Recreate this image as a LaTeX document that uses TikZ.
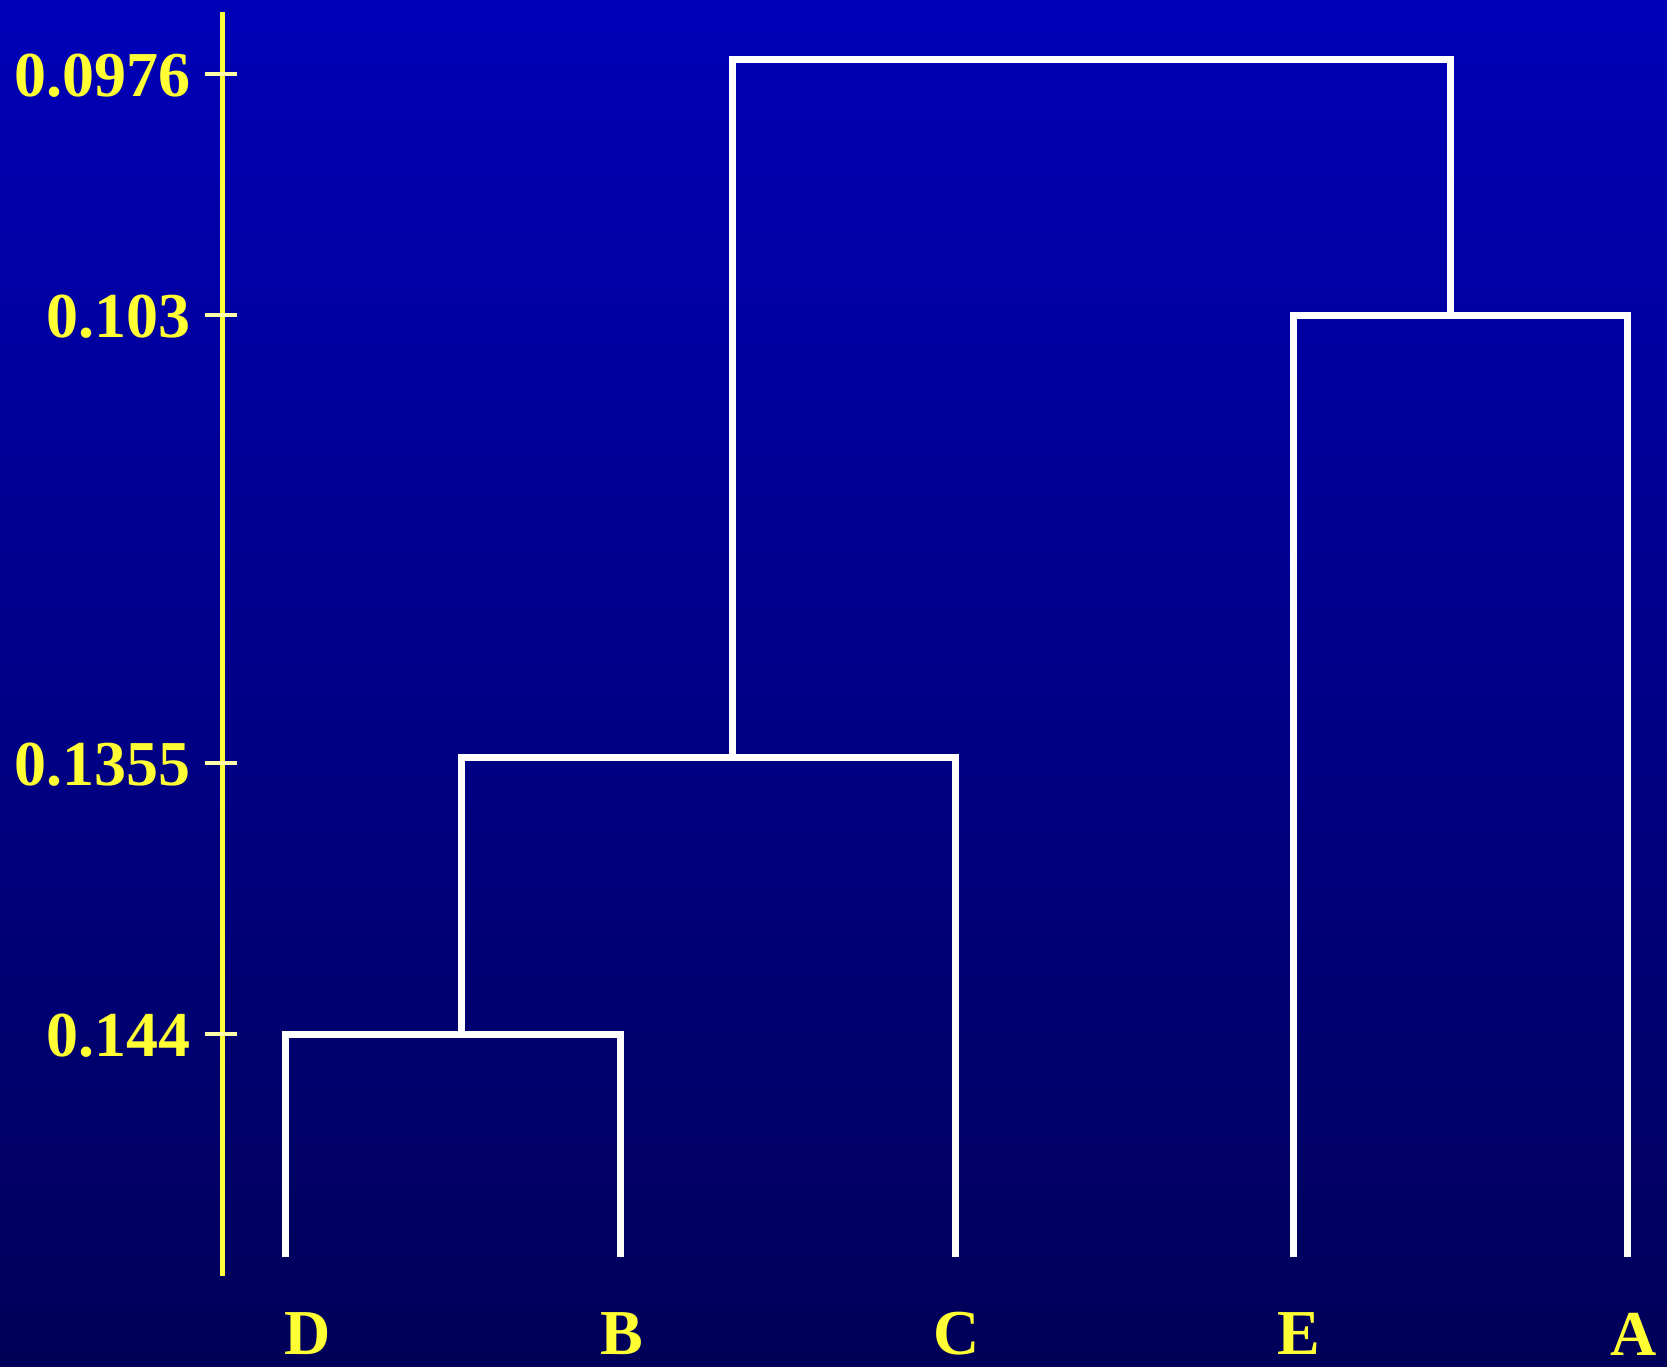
\documentclass[tikz,border=0pt]{standalone}
\usepackage{fontspec}
\setmainfont{Liberation Serif}
\definecolor{bgtop}{RGB}{0,0,184}
\definecolor{bgbot}{RGB}{0,0,88}
\definecolor{axisyellow}{RGB}{255,255,60}
\definecolor{tickyellow}{RGB}{255,255,170}
\definecolor{labelyellow}{RGB}{255,255,51}
\begin{document}
\begin{tikzpicture}[x=0.6pt,y=-0.6pt,
  branch/.style={draw=white,line width=4.2pt,line join=miter,line cap=butt},
  axisline/.style={draw=axisyellow,line width=3pt},
  tickmark/.style={draw=tickyellow,line width=2.4pt},
  lblfont/.style={text=labelyellow,font=\fontsize{38.4}{40}\selectfont\bfseries,inner sep=0pt},
  ticklabel/.style={lblfont,anchor=east},
  leaflabel/.style={lblfont,anchor=center}]
\useasboundingbox (0,0) rectangle (1667,1366);
\shade[top color=bgtop,bottom color=bgbot] (0,0) rectangle (1667,1366);
% axis
\coordinate (axtop) at (222,12);
\coordinate (axbot) at (222,1276);
\draw[axisline] (axtop) -- (axbot);
\coordinate (t1a) at (205,74);   \coordinate (t1b) at (237,74);
\coordinate (t2a) at (205,315);  \coordinate (t2b) at (237,315);
\coordinate (t3a) at (205,763);  \coordinate (t3b) at (237,763);
\coordinate (t4a) at (205,1034); \coordinate (t4b) at (237,1034);
\draw[tickmark] (t1a) -- (t1b);
\draw[tickmark] (t2a) -- (t2b);
\draw[tickmark] (t3a) -- (t3b);
\draw[tickmark] (t4a) -- (t4b);
\node[ticklabel] (l1) at (191,76) {0.0976};
\node[ticklabel] (l2) at (191,317) {0.103};
\node[ticklabel] (l3) at (191,765) {0.1355};
\node[ticklabel] (l4) at (191,1036) {0.144};
% leaves
\coordinate (D) at (285,1257);
\coordinate (B) at (620,1257);
\coordinate (C) at (955,1257);
\coordinate (E) at (1293,1257);
\coordinate (A) at (1627,1257);
% joins
\coordinate (DB) at (461,1034);
\coordinate (DBC) at (732,757);
\coordinate (EA) at (1450,315);
\coordinate (root) at (1091,59);
\draw[branch] (D) |- (DB) -| (B);
\draw[branch] (DB) |- (DBC) -| (C);
\draw[branch] (E) |- (EA) -| (A);
\draw[branch] (DBC) |- (root) -| (EA);
% leaf labels
\node[leaflabel] (lD) at (308,1334) {D};
\node[leaflabel] (lB) at (622,1334) {B};
\node[leaflabel] (lC) at (957,1334) {C};
\node[leaflabel] (lE) at (1299,1334) {E};
\node[leaflabel] (lA) at (1634,1334) {A};
\end{tikzpicture}
\end{document}
